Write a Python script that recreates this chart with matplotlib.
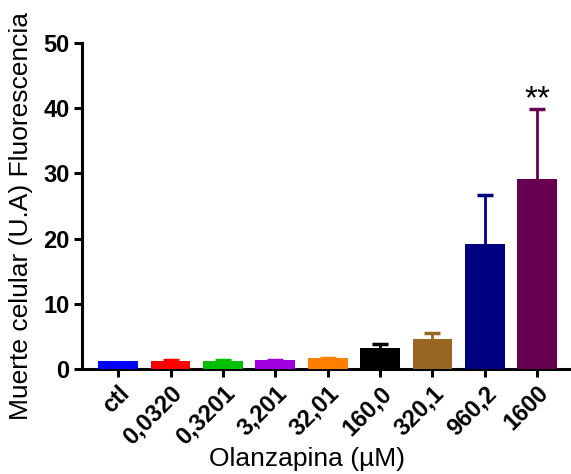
import matplotlib
matplotlib.use("Agg")
import matplotlib.pyplot as plt

categories = ["ctl", "0,0320", "0,3201", "3,201", "32,01", "160,0", "320,1", "960,2", "1600"]
values = [1.2, 1.3, 1.3, 1.35, 1.7, 3.2, 4.6, 19.2, 29.1]
errors = [0.0, 0.1, 0.05, 0.1, 0.05, 0.7, 0.9, 7.5, 10.8]
colors = ["#0000FF", "#FF0000", "#00C000", "#A000E0", "#FF8000", "#000000", "#996622", "#000080", "#660050"]
yticks = [0, 10, 20, 30, 40, 50]

plt.rcParams['font.family'] = ['Liberation Sans', 'DejaVu Sans']

fig = plt.figure(figsize=(5.71, 4.74), dpi=100)
ax = fig.add_axes([0.1436, 0.2215, 0.855, 0.6875])

x = list(range(len(categories)))
for i in x:
    ax.bar(i, values[i], width=0.76, color=colors[i], zorder=3)
    if errors[i] > 0:
        _, caps, _ = ax.errorbar(i, values[i], yerr=[[0], [errors[i]]], fmt='none', ecolor=colors[i],
                                 elinewidth=2, capsize=6, capthick=2.5, zorder=1)
        # keep only the upper cap
        caps[0].remove()

ax.text(8, values[8] + errors[8] + 0.05, "**", ha='center', va='baseline', fontsize=24)

ax.set_xlim(-0.69, 8.63)
ax.set_ylim(0, 50)
ax.set_yticks(yticks)
ax.set_yticklabels([str(v) for v in yticks], fontsize=17, fontweight='bold')
ax.set_xticks(x)
ax.set_xticklabels(categories, rotation=45, ha='right', rotation_mode='anchor', fontsize=17, fontweight='bold')

for s in ['top', 'right']:
    ax.spines[s].set_visible(False)
for s in ['left', 'bottom']:
    ax.spines[s].set_linewidth(2.2)
ax.tick_params(axis='both', width=2.2, length=6, pad=3)

ax.set_xlabel("Olanzapina (\u00b5M)", fontsize=19)
ax.set_ylabel("Muerte celular (U.A) Fluorescencia", fontsize=19)
ax.xaxis.set_label_coords(0.46, -0.24)
ax.yaxis.set_label_coords(-0.10, 0.47)

fig.savefig("out.png", dpi=100)
